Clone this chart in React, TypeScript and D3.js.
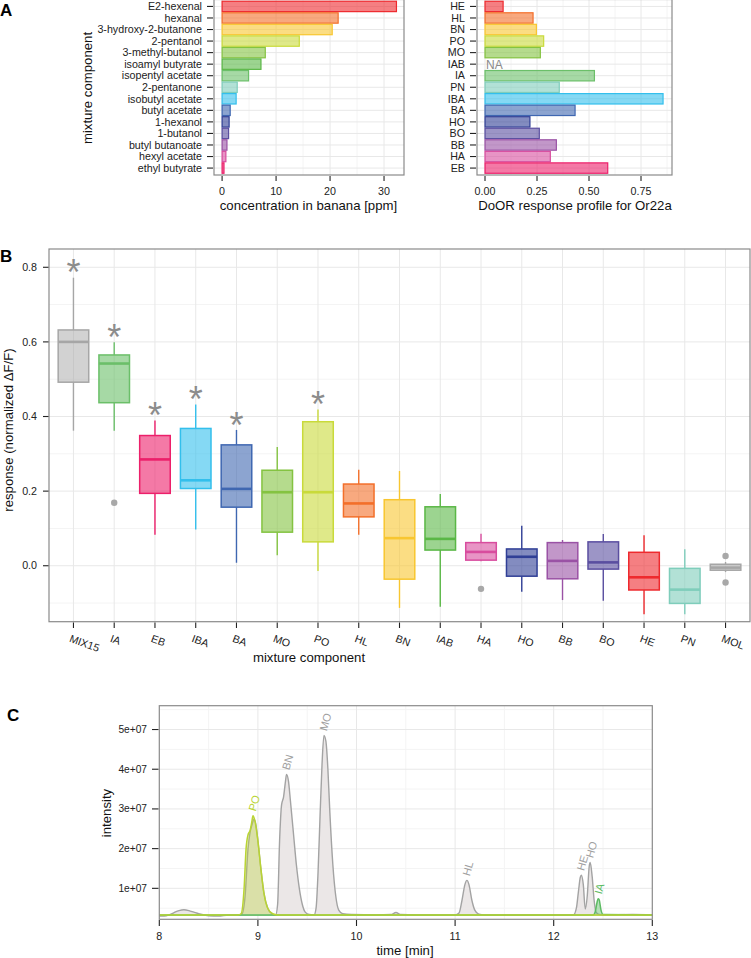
import * as d3 from 'd3';

// panel A: concentrations and DoOR responses
const concNames = ['E2-hexenal', 'hexanal', '3-hydroxy-2-butanone', '2-pentanol', '3-methyl-butanol', 'isoamyl butyrate',
  'isopentyl acetate', '2-pentanone', 'isobutyl acetate', 'butyl acetate', '1-hexanol', '1-butanol', 'butyl butanoate',
  'hexyl acetate', 'ethyl butyrate'];
const concValues = [32.3, 21.5, 20.4, 14.3, 8.0, 7.2, 4.9, 2.8, 2.6, 1.5, 1.3, 1.2, 0.9, 0.7, 0.35];
const abbrevs = ['HE', 'HL', 'BN', 'PO', 'MO', 'IAB', 'IA', 'PN', 'IBA', 'BA', 'HO', 'BO', 'BB', 'HA', 'EB'];
const doorValues: (number | null)[] = [0.087, 0.231, 0.247, 0.282, 0.266, null, 0.526, 0.357, 0.856, 0.433, 0.216, 0.261, 0.343, 0.314, 0.59];
const compColors = ['#ee2a2e', '#f36f2a', '#f8c630', '#c9da3a', '#84c341', '#5ab746', '#6bbf69', '#7fcdbb', '#33bfec',
  '#3f67b1', '#303f96', '#5a4ea0', '#9a52a5', '#d84c9e', '#ec1f6a'];
const grey = '#a6a6a6';

// panel B: boxplot stats
const boxNames = ['MIX15', 'IA', 'EB', 'IBA', 'BA', 'MO', 'PO', 'HL', 'BN', 'IAB', 'HA', 'HO', 'BB', 'BO', 'HE', 'PN', 'MOL'];
const boxLow = [0.362, 0.362, 0.083, 0.097, 0.008, 0.028, -0.014, 0.083, -0.113, -0.110, 0.012, -0.070, -0.092, -0.094, -0.130, -0.130, -0.017];
const boxQ1 = [0.492, 0.437, 0.194, 0.207, 0.157, 0.090, 0.064, 0.131, -0.036, 0.042, 0.015, -0.028, -0.035, -0.009, -0.065, -0.101, -0.012];
const boxMed = [0.600, 0.542, 0.285, 0.229, 0.206, 0.197, 0.197, 0.167, 0.074, 0.072, 0.037, 0.024, 0.013, 0.009, -0.031, -0.064, -0.005];
const boxQ3 = [0.632, 0.565, 0.349, 0.368, 0.324, 0.256, 0.386, 0.219, 0.177, 0.158, 0.062, 0.045, 0.062, 0.064, 0.036, -0.007, 0.004];
const boxHigh = [0.772, 0.599, 0.389, 0.432, 0.364, 0.318, 0.419, 0.257, 0.254, 0.192, 0.086, 0.107, 0.069, 0.085, 0.082, 0.044, 0.010];
const outlierNames = ['IA', 'HA', 'MOL', 'MOL'];
const outlierValues = [0.169, -0.062, 0.026, -0.045];
const starred = ['MIX15', 'IA', 'EB', 'IBA', 'BA', 'PO'];
const boxColor = (n: string) => (n === 'MIX15' || n === 'MOL' ? grey : compColors[abbrevs.indexOf(n)]);

// panel C: chromatogram traces (intensity in 1e6)
const mixTime = [8.00, 8.05, 8.10, 8.15, 8.20, 8.25, 8.30, 8.35, 8.40, 8.50, 8.60, 8.70, 8.80, 8.84, 8.87, 8.90, 8.92, 8.94,
  8.96, 8.98, 9.00, 9.03, 9.06, 9.10, 9.14, 9.18, 9.20, 9.22, 9.24, 9.26, 9.28, 9.29, 9.31, 9.33, 9.36, 9.39, 9.42, 9.45,
  9.48, 9.52, 9.57, 9.59, 9.61, 9.63, 9.65, 9.67, 9.69, 9.71, 9.73, 9.76, 9.79, 9.82, 9.86, 9.95, 10.20, 10.35, 10.40,
  10.45, 10.60, 11.00, 11.04, 11.07, 11.10, 11.12, 11.14, 11.17, 11.20, 11.24, 11.30, 11.80, 12.20, 12.23, 12.25, 12.27,
  12.28, 12.30, 12.32, 12.34, 12.36, 12.37, 12.39, 12.41, 12.43, 12.46, 12.50, 12.80, 13.00];
const mixSignal = [3.0, 3.0, 3.3, 3.9, 4.4, 4.6, 4.4, 4.0, 3.6, 3.1, 3.0, 3.3, 3.3, 3.6, 8, 20, 24, 26,
  27.4, 26, 22, 15, 9, 5, 3.6, 3.3, 6, 22, 31, 33, 37, 38.7, 37, 32, 24, 16, 10, 6,
  4, 3.4, 3.3, 5, 14, 28, 41, 48.5, 47, 40, 29, 16, 8, 4.5, 3.6, 3.4, 3.3, 3.4, 3.9,
  3.4, 3.3, 3.3, 3.8, 7, 11, 12, 11, 7, 4.5, 3.5, 3.3, 3.3, 3.3, 5, 9, 12.8,
  13.3, 11, 4.8, 8, 15.5, 16.5, 13, 7, 4, 3.4, 3.3, 3.4, 3.3];
const poTime = [8.00, 8.80, 8.83, 8.86, 8.88, 8.90, 8.92, 8.94, 8.95, 8.97, 9.00, 9.03, 9.06, 9.10, 9.15, 9.20, 13.00];
const poSignal = [3.3, 3.3, 3.6, 10, 20, 23.5, 24.5, 27, 28.3, 27, 22, 15, 9, 5, 3.6, 3.3, 3.3];
const iaTime = [8.00, 12.40, 12.42, 12.44, 12.45, 12.46, 12.48, 12.50, 13.00];
const iaSignal = [3.3, 3.3, 4, 6.5, 7.4, 7.2, 4.5, 3.4, 3.3];
const peakLabels = ['PO', 'BN', 'MO', 'HL', 'HE', 'HO', 'IA'];
const peakTimes = [8.95, 9.29, 9.67, 11.12, 12.28, 12.37, 12.46];
const peakHeights = [28.3, 38.7, 48.5, 12, 13.3, 16.5, 7.4];
const poColor = '#b9d433';
const iaColor = '#5dbb63';

const font = 'Liberation Sans, Arial, Helvetica, sans-serif';
const tickCol = '#222';
const gridMajor = '#e8e8e8';
const gridMinor = '#f4f4f4';
const border = '#8a8a8a';

const App = () => {
  // ---- A left
  const aTop = -0.5, aBottom = 175;
  const yA = d3.scalePoint<string>().domain(concNames).range([aTop, aBottom]).padding(0.6);
  const yA2 = d3.scalePoint<string>().domain(abbrevs).range([aTop, aBottom]).padding(0.6);
  const barH = yA.step() * 0.9;
  const xA = d3.scaleLinear().domain([-1.5, 33.7]).range([214, 404]);
  const xA2 = d3.scaleLinear().domain([-0.0385, 0.899]).range([477, 672]);

  // ---- B
  const xB = d3.scalePoint<string>().domain(boxNames).range([49, 750]).padding(0.6);
  const yB = d3.scaleLinear().domain([-0.15, 0.849]).range([621.7, 249]);
  const boxW = xB.step() * 0.75;

  // ---- C
  const xC = d3.scaleLinear().domain([8, 13]).range([159.3, 652.3]);
  const yC = d3.scaleLinear().domain([2.2, 56]).range([919.3, 705.7]);
  const line = (t: number[], s: number[]) =>
    d3.line<number>().x((_, i) => xC(t[i])).y(d => yC(d)).curve(d3.curveMonotoneX)(s) || '';
  const area = (t: number[], s: number[]) =>
    d3.area<number>().x((_, i) => xC(t[i])).y0(yC(3.1)).y1(d => yC(Math.max(d, 3.1))).curve(d3.curveMonotoneX)(s) || '';

  const vGrid = (scale: d3.ScaleLinear<number, number>, vals: number[], y0: number, y1: number, col: string) =>
    vals.map(v => <line key={'v' + v + col} x1={scale(v)} x2={scale(v)} y1={y0} y2={y1} stroke={col} strokeWidth={1} />);
  const hGrid = (scale: d3.ScaleLinear<number, number>, vals: number[], x0: number, x1: number, col: string) =>
    vals.map(v => <line key={'h' + v + col} y1={scale(v)} y2={scale(v)} x1={x0} x2={x1} stroke={col} strokeWidth={1} />);

  return (
    <svg width={751} height={958} style={{ position: 'absolute', left: 0, top: 0 }} fontFamily={font}>
      <rect width={751} height={958} fill="#fff" />

      {/* ===== Panel A left ===== */}
      <text x={0} y={16} fontSize={17} fontWeight="bold">A</text>
      {vGrid(xA, [5, 15, 25], aTop, aBottom, gridMinor)}
      {vGrid(xA, [0, 10, 20, 30], aTop, aBottom, gridMajor)}
      {concNames.map(n => <line key={'ga' + n} x1={214} x2={404} y1={yA(n)} y2={yA(n)} stroke={gridMajor} />)}
      {concNames.map((n, i) => (
        <rect key={'ba' + n} x={xA(0)} y={(yA(n) as number) - barH / 2} width={xA(concValues[i]) - xA(0)} height={barH}
          fill={compColors[i]} fillOpacity={0.6} stroke={compColors[i]} strokeWidth={1.2} />
      ))}
      <rect x={214} y={aTop} width={190} height={aBottom - aTop} fill="none" stroke={border} strokeWidth={1.2} />
      {concNames.map(n => (
        <g key={'ta' + n}>
          <line x1={207} x2={213} y1={yA(n)} y2={yA(n)} stroke={tickCol} strokeWidth={1.1} />
          <text x={202} y={yA(n)} dy="0.35em" textAnchor="end" fontSize={10.7} fill={tickCol}>{n}</text>
        </g>
      ))}
      {[0, 10, 20, 30].map(v => (
        <g key={'xa' + v}>
          <line x1={xA(v)} x2={xA(v)} y1={aBottom + 1} y2={aBottom + 6} stroke={tickCol} strokeWidth={1.1} />
          <text x={xA(v)} y={195} textAnchor="middle" fontSize={10.7} fill={tickCol}>{v}</text>
        </g>
      ))}
      <text x={xA(16)} y={210} textAnchor="middle" fontSize={13.2} fill="#111">concentration in banana [ppm]</text>
      <text transform="translate(92,88) rotate(-90)" textAnchor="middle" fontSize={13.2} fill="#111">mixture component</text>

      {/* ===== Panel A right ===== */}
      {vGrid(xA2, [0.125, 0.375, 0.625, 0.875], aTop, aBottom, gridMinor)}
      {vGrid(xA2, [0, 0.25, 0.5, 0.75], aTop, aBottom, gridMajor)}
      {abbrevs.map(n => <line key={'gb' + n} x1={477} x2={672} y1={yA2(n)} y2={yA2(n)} stroke={gridMajor} />)}
      {abbrevs.map((n, i) => doorValues[i] === null ? (
        <text key={'na' + n} x={xA2(0) + 1} y={yA2(n)} dy="0.38em" fontSize={12} fill="#8a8a8a">NA</text>
      ) : (
        <rect key={'bb' + n} x={xA2(0)} y={(yA2(n) as number) - barH / 2} width={xA2(doorValues[i] as number) - xA2(0)}
          height={barH} fill={compColors[i]} fillOpacity={0.6} stroke={compColors[i]} strokeWidth={1.2} />
      ))}
      <rect x={477} y={aTop} width={195} height={aBottom - aTop} fill="none" stroke={border} strokeWidth={1.2} />
      {abbrevs.map(n => (
        <g key={'tb' + n}>
          <line x1={470} x2={476} y1={yA2(n)} y2={yA2(n)} stroke={tickCol} strokeWidth={1.1} />
          <text x={465} y={yA2(n)} dy="0.35em" textAnchor="end" fontSize={10.7} fill={tickCol}>{n}</text>
        </g>
      ))}
      {[0, 0.25, 0.5, 0.75].map(v => (
        <g key={'xb' + v}>
          <line x1={xA2(v)} x2={xA2(v)} y1={aBottom + 1} y2={aBottom + 6} stroke={tickCol} strokeWidth={1.1} />
          <text x={xA2(v)} y={195} textAnchor="middle" fontSize={10.7} fill={tickCol}>{d3.format('.2f')(v)}</text>
        </g>
      ))}
      <text x={575} y={210} textAnchor="middle" fontSize={13.2} fill="#111">DoOR response profile for Or22a</text>

      {/* ===== Panel B ===== */}
      <text x={0} y={262} fontSize={17} fontWeight="bold">B</text>
      {hGrid(yB, [-0.1, 0.1, 0.3, 0.5, 0.7], 49, 750, gridMinor)}
      {hGrid(yB, [0, 0.2, 0.4, 0.6, 0.8], 49, 750, gridMajor)}
      {boxNames.map(n => <line key={'gx' + n} x1={xB(n)} x2={xB(n)} y1={249} y2={621.7} stroke={gridMajor} />)}
      {boxNames.map((n, i) => {
        const c = boxColor(n);
        const x = xB(n) as number;
        return (
          <g key={'box' + n}>
            <line x1={x} x2={x} y1={yB(boxHigh[i])} y2={yB(boxQ3[i])} stroke={c} strokeWidth={1.4} />
            <line x1={x} x2={x} y1={yB(boxQ1[i])} y2={yB(boxLow[i])} stroke={c} strokeWidth={1.4} />
            <rect x={x - boxW / 2} y={yB(boxQ3[i])} width={boxW} height={yB(boxQ1[i]) - yB(boxQ3[i])}
              fill={c} fillOpacity={n === 'MIX15' || n === 'MOL' ? 0.5 : 0.6} stroke={c} strokeWidth={1.5} />
            <line x1={x - boxW / 2} x2={x + boxW / 2} y1={yB(boxMed[i])} y2={yB(boxMed[i])} stroke={c} strokeWidth={2.6} />
          </g>
        );
      })}
      {outlierNames.map((n, i) => (
        <circle key={'out' + i} cx={xB(n)} cy={yB(outlierValues[i])} r={3.2} fill="#a8a8a8" />
      ))}
      {starred.map(n => (
        <text key={'star' + n} x={xB(n)} y={yB(boxHigh[boxNames.indexOf(n)]) - 13} dy="0.575em" textAnchor="middle"
          fontSize={36} fill="#8c8c8c">*</text>
      ))}
      <rect x={49} y={249} width={701} height={372.7} fill="none" stroke={border} strokeWidth={1.2} />
      {[0, 0.2, 0.4, 0.6, 0.8].map(v => (
        <g key={'yb' + v}>
          <line x1={43} x2={48.5} y1={yB(v)} y2={yB(v)} stroke={tickCol} strokeWidth={1.1} />
          <text x={37} y={yB(v)} dy="0.35em" textAnchor="end" fontSize={10.7} fill={tickCol}>{d3.format('.1f')(v)}</text>
        </g>
      ))}
      {boxNames.map(n => (
        <g key={'xl' + n}>
          <line x1={xB(n)} x2={xB(n)} y1={622.5} y2={628} stroke={tickCol} strokeWidth={1.1} />
          <text transform={`translate(${(xB(n) as number) - 2},634) rotate(20)`} dy="0.75em" fontSize={10.7} fill={tickCol}>{n}</text>
        </g>
      ))}
      <text x={309} y={662} textAnchor="middle" fontSize={13.2} fill="#111">mixture component</text>
      <text transform="translate(13,430) rotate(-90)" textAnchor="middle" fontSize={13.2} fill="#111">response (normalized ΔF/F)</text>

      {/* ===== Panel C ===== */}
      <text x={7} y={721} fontSize={17} fontWeight="bold">C</text>
      {hGrid(yC, [5, 15, 25, 35, 45, 55], 159.3, 652.3, gridMinor)}
      {vGrid(xC, [8.5, 9.5, 10.5, 11.5, 12.5], 705.7, 919.3, gridMinor)}
      {hGrid(yC, [10, 20, 30, 40, 50], 159.3, 652.3, gridMajor)}
      {vGrid(xC, [9, 10, 11, 12], 705.7, 919.3, gridMajor)}
      <path d={area(mixTime, mixSignal)} fill="#ebe7e7" />
      <path d={line(mixTime, mixSignal)} fill="none" stroke="#a3a3a3" strokeWidth={1.4} />
      <path d={area(poTime, poSignal)} fill={poColor} fillOpacity={0.35} />
      <path d={area(iaTime, iaSignal)} fill={iaColor} fillOpacity={0.45} />
      <path d={line(iaTime, iaSignal)} fill="none" stroke={iaColor} strokeWidth={1.5} />
      <path d={line(poTime, poSignal)} fill="none" stroke={poColor} strokeWidth={1.5} />
      {peakLabels.map((n, i) => (
        <text key={'pk' + n} transform={`translate(${xC(peakTimes[i]) - 1},${yC(peakHeights[i]) - 5}) rotate(-74)`}
          dy="0.35em" fontSize={11} fill={n === 'PO' ? poColor : n === 'IA' ? iaColor : '#a0a0a0'}>{n}</text>
      ))}
      <rect x={159.3} y={705.7} width={493} height={213.6} fill="none" stroke={border} strokeWidth={1.2} />
      {[10, 20, 30, 40, 50].map(v => (
        <g key={'yc' + v}>
          <line x1={152} x2={158.5} y1={yC(v)} y2={yC(v)} stroke={tickCol} strokeWidth={1.1} />
          <text x={147} y={yC(v)} dy="0.35em" textAnchor="end" fontSize={10.2} fill={tickCol}>{`${v / 10}e+07`}</text>
        </g>
      ))}
      {[8, 9, 10, 11, 12, 13].map(v => (
        <g key={'xc' + v}>
          <line x1={xC(v)} x2={xC(v)} y1={920} y2={926} stroke={tickCol} strokeWidth={1.1} />
          <text x={xC(v)} y={940} textAnchor="middle" fontSize={10.7} fill={tickCol}>{v}</text>
        </g>
      ))}
      <text x={405} y={955} textAnchor="middle" fontSize={13.2} fill="#111">time [min]</text>
      <text transform="translate(111,813) rotate(-90)" textAnchor="middle" fontSize={13.2} fill="#111">intensity</text>
    </svg>
  );
};

export default App;
